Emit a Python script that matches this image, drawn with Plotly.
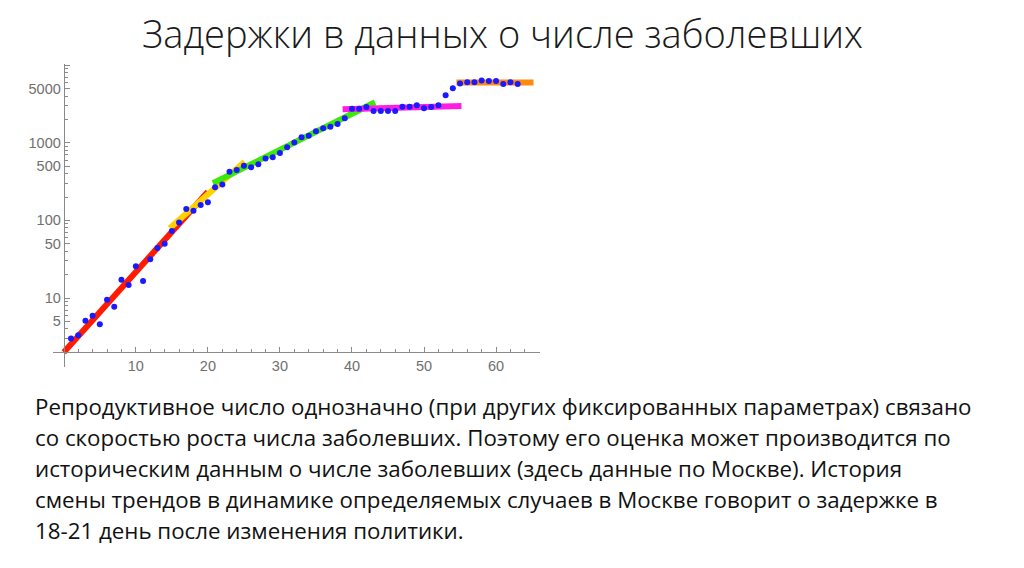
import plotly.graph_objects as go
import math

# ---- data ----
days = list(range(1, 64))
cases = [3.0, 3.3, 5.1, 5.9, 4.6, 9.5, 7.7, 17.2, 14.7, 25.6,
         16.6, 31.5, 44, 50, 73, 94, 140, 133, 158, 171,
         267, 289, 424, 446, 507, 483, 528, 625, 650, 739,
         875, 1005, 1176, 1236, 1406, 1536, 1614, 1747, 2067, 2754,
         2754, 2892, 2570, 2570, 2570, 2570, 2919, 2919, 3040, 2780,
         2892, 3040, 4093, 5036, 5783, 6015, 6015, 6324, 6253, 6253,
         5730, 6015, 5730]

trend_names = ["red", "yellow", "green", "magenta", "orange"]
trend_x = [[0, 20.0], [14.7, 25.1], [20.7, 43.2], [38.7, 55.2], [54.5, 65.2]]
trend_y = [[2.0, 234], [79, 570], [301, 3327], [2704, 2979], [5960, 5960]]
trend_colors = ["#ff1a00", "#ffd200", "#3ee80a", "#ff1ee0", "#ff8a10"]

x_tickvals = [10, 20, 30, 40, 50, 60]
x_minor = [v for v in range(2, 67, 2) if v % 10 != 0]
y_tickvals = [5, 10, 50, 100, 500, 1000, 5000, 10000]
y_ticktext = ["5", "10", "50", "100", "500", "1000", "5000", ""]
y_minor = [m * 10 ** e for e in range(0, 4) for m in range(2, 10) if m != 5]

title_text = "Задержки в данных о числе заболевших"
body_lines = [
    "Репродуктивное число однозначно (при других фиксированных параметрах) связано",
    "со скоростью роста числа заболевших. Поэтому его оценка может производится по",
    "историческим данным о числе заболевших (здесь данные по Москве). История",
    "смены трендов в динамике определяемых случаев в Москве говорит о задержке в",
    "18-21 день после изменения политики.",
]

# ---- layout geometry (page offset of the browser body margin compensated) ----
OX, OY = 8, 8
W, H = 1024, 568
L, T = 53.2 - OX, 64.0 - OY
plot_w, plot_h = 486.8, 303.0
R, B = W - L - plot_w, H - T - plot_h
xr = [-1.5, 66.1]
yr = [0.111, 4.015]


def py(p):
    return (T + plot_h - (p - OY)) / plot_h


def px(p):
    return ((p - OX) - L) / plot_w


fig = go.Figure()
for name, xs, ys, c in zip(trend_names, trend_x, trend_y, trend_colors):
    fig.add_trace(go.Scatter(x=xs, y=ys, mode="lines", name=name,
                             line=dict(color=c, width=6), hoverinfo="skip"))
fig.add_trace(go.Scatter(x=days, y=cases, mode="markers", name="cases",
                         marker=dict(color="#1a1aff", size=6, line=dict(width=0))))

axis_col = "#8a8a8a"
tick_font = dict(family="Liberation Sans, Arial, sans-serif", size=14.5, color="#707070")

fig.update_layout(
    width=W, height=H,
    margin=dict(l=L, r=R, t=T, b=B, autoexpand=False),
    paper_bgcolor="white", plot_bgcolor="white",
    showlegend=False,
    xaxis=dict(range=xr, showgrid=False, zeroline=False, showline=True,
               linecolor=axis_col, linewidth=1.2,
               anchor="free", position=(math.log10(2) - yr[0]) / (yr[1] - yr[0]),
               tickmode="array", tickvals=x_tickvals, ticks="inside", ticklen=5,
               tickcolor=axis_col, tickfont=tick_font,
               minor=dict(tickmode="array", tickvals=x_minor, ticks="inside",
                          ticklen=3, tickcolor=axis_col)),
    yaxis=dict(type="log", range=yr, showgrid=False, zeroline=False, showline=True,
               linecolor=axis_col, linewidth=1.2,
               anchor="free", position=(0 - xr[0]) / (xr[1] - xr[0]),
               tickmode="array", tickvals=y_tickvals, ticktext=y_ticktext,
               ticks="inside", ticklen=5, tickcolor=axis_col, tickfont=tick_font,
               minor=dict(tickmode="array", tickvals=y_minor, ticks="inside",
                          ticklen=3, tickcolor=axis_col)),
)

fig.add_annotation(text=title_text, xref="paper", yref="paper",
                   x=px(503), y=py(33), xanchor="center", yanchor="middle",
                   showarrow=False,
                   font=dict(family="Open Sans", size=38, color="#1a1a1a", weight=300))

for i, line in enumerate(body_lines):
    fig.add_annotation(text=line, xref="paper", yref="paper",
                       x=px(33), y=py(406 + i * 31.2), xanchor="left", yanchor="middle",
                       showarrow=False,
                       font=dict(family="Open Sans", size=22.3, color="#111111"))

fig.write_html("out.html")
